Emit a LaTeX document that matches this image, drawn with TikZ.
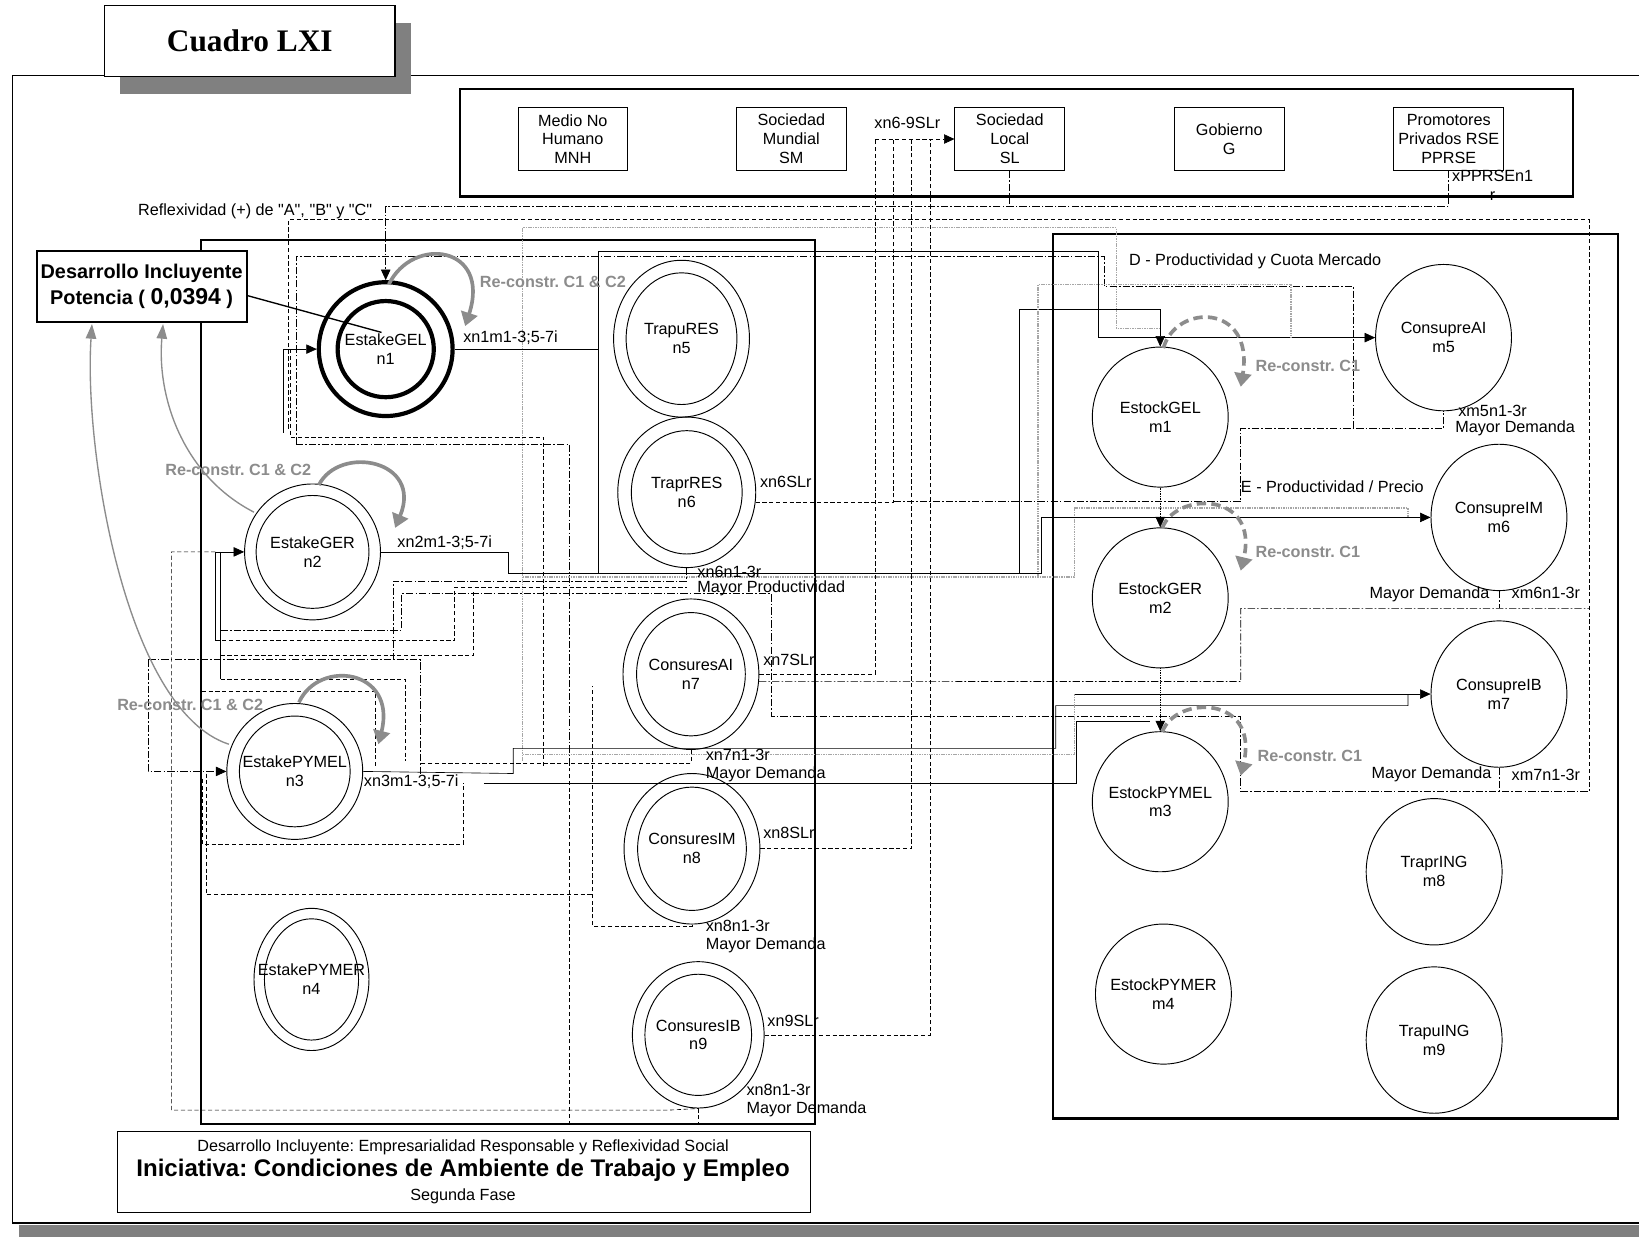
\documentclass[tikz,border=0pt]{standalone}
\usepackage{fontspec}
\setmainfont{Liberation Sans}
\newfontfamily\tnrfont{Liberation Serif}
\usetikzlibrary{arrows.meta,shapes.geometric}
\definecolor{rgray}{HTML}{8C8C8C}
\definecolor{shgray}{HTML}{808080}
\frenchspacing
\begin{document}
\begin{tikzpicture}[x=1pt,y=-1pt,
    txt/.style={font=\fontsize{15.5}{18}\selectfont, inner sep=0pt, align=center},
    lbl/.style={txt, anchor=west},
    actor/.style={txt, draw, line width=0.8pt, minimum width=105pt, minimum height=60pt},
    stake/.style={draw, ellipse, line width=0.9pt, inner sep=0pt},
    stock/.style={draw, ellipse, line width=0.9pt, inner sep=0pt, minimum width=130pt, minimum height=134pt},
    bx/.style={draw, line width=2pt},
    wire/.style={line width=0.6pt},
    dh/.style={wire, dash pattern=on 4pt off 2.5pt},
    dt/.style={wire, dash pattern=on 7pt off 2pt on 1.5pt off 2pt},
    gd/.style={line width=1.1pt, gray!70, dash pattern=on 1.5pt off 0.8pt},
    arw/.style={-{Triangle[length=10pt,width=9pt,color=black]}},
    recon/.style={rgray, line width=3.5pt, -{Triangle[length=13pt,width=16pt]}},
    recond/.style={recon, dash pattern=on 9pt off 5pt},
    rlbl/.style={lbl, text=rgray, font=\bfseries\fontsize{15.5}{18}\selectfont},
    guide/.style={rgray, line width=1.3pt, -{Triangle[length=14pt,width=10pt]}}
  ]

  \useasboundingbox (0,0) rectangle (1568,1183);
  \fill[shgray] (18,1172) rectangle (1580,1183);
  \draw[line width=1.2pt, fill=white] (12,72) rectangle (1575,1170);

  \fill[shgray] (115,22) rectangle (393,90);
  \node[draw, line width=1.2pt, fill=white, minimum width=278pt, minimum height=68pt, font=\tnrfont\bfseries\fontsize{30}{32}\selectfont] (titulo) at (239,39) {Cuadro LXI};

  \draw[line width=2.5pt] (440,85) rectangle (1505,188);
  \node[actor] (MNH) at (548,133) {Medio No\\Humano\\MNH};
  \node[actor] (SM) at (757,133) {Sociedad\\Mundial\\SM};
  \node[actor] (SL) at (966,133) {Sociedad\\Local\\SL};
  \node[actor] (G) at (1176,133) {Gobierno\\G};
  \node[actor] (PP) at (1386,133) {Promotores\\Privados RSE\\PPRSE};

  \draw[bx] (192,230) rectangle (780,1075);
  \draw[bx] (1007,224) rectangle (1548,1070);

  \node[stake, line width=4pt, minimum size=128pt, label={[txt]center:EstakeGEL\\n1}] (n1) at (369,334) {};
  \draw[line width=4pt] (n1.center) circle [radius=46];
  \node[stake, minimum size=130pt, label={[txt]center:EstakeGER\\n2}] (n2) at (299,528) {};
  \draw[line width=0.9pt] (n2.center) circle [radius=54];
  \node[stake, minimum size=130pt, label={[txt]center:EstakePYMEL\\n3}] (n3) at (282,738) {};
  \draw[line width=0.9pt] (n3.center) circle [radius=53];
  \node[stake, minimum width=110pt, minimum height=136pt, label={[txt]center:EstakePYMER\\n4}] (n4) at (298,937) {};
  \draw[line width=0.9pt] (n4.center) ellipse [x radius=45, y radius=58];
  \node[stake, minimum width=130pt, minimum height=150pt, label={[txt]center:TrapuRES\\n5}] (n5) at (652,324) {};
  \draw[line width=0.9pt] (n5.center) ellipse [x radius=53, y radius=63];
  \node[stake, minimum width=132pt, minimum height=144pt, label={[txt]center:TraprRES\\n6}] (n6) at (657,471) {};
  \draw[line width=0.9pt] (n6.center) ellipse [x radius=53, y radius=59];
  \node[stake, minimum width=130pt, minimum height=144pt, label={[txt]center:ConsuresAI\\n7}] (n7) at (661,645) {};
  \draw[line width=0.9pt] (n7.center) ellipse [x radius=52, y radius=59];
  \node[stake, minimum width=130pt, minimum height=144pt, label={[txt]center:ConsuresIM\\n8}] (n8) at (662,812) {};
  \draw[line width=0.9pt] (n8.center) ellipse [x radius=52, y radius=59];
  \node[stake, minimum width=126pt, minimum height=140pt, label={[txt]center:ConsuresIB\\n9}] (n9) at (668,990) {};
  \draw[line width=0.9pt] (n9.center) ellipse [x radius=51, y radius=58];

  \node[stock, label={[txt]center:EstockGEL\\m1}] (m1) at (1110,399) {};
  \node[stock, label={[txt]center:EstockGER\\m2}] (m2) at (1110,572) {};
  \node[stock, label={[txt]center:EstockPYMEL\\m3}] (m3) at (1110,767) {};
  \node[stock, label={[txt]center:EstockPYMER\\m4}] (m4) at (1113,951) {};
  \node[stock, minimum height=140pt, label={[txt]center:ConsupreAI\\m5}] (m5) at (1381,323) {};
  \node[stock, minimum height=140pt, label={[txt]center:ConsupreIM\\m6}] (m6) at (1434,495) {};
  \node[stock, minimum height=140pt, label={[txt]center:ConsupreIB\\m7}] (m7) at (1434,664) {};
  \node[stock, minimum height=140pt, label={[txt]center:TraprING\\m8}] (m8) at (1372,834) {};
  \node[stock, minimum height=140pt, label={[txt]center:TrapuING\\m9}] (m9) at (1372,995) {};

  \draw[dt, arw] (PP.south) -- (1386,197) -- (369,197) -- (n1.north);
  \draw[dt] (SL.south) -- (966,197);
  \draw[dh] (276,410) -- (276,210) -- (1520,210) -- (1520,757);
  \draw[gd] (500,728) -- (500,218) -- (1068,218) -- (1068,314) -- (1110,314);
  \draw[dt] (283,425) -- (283,245) -- (1056,245) -- (1056,274) -- (1295,274) -- (1295,410);

  \draw[dh] (n6.-8) -| (855,133);
  \draw[dh] (n7.east) -| (837,133);
  \draw[dh] (n8.east) -| (872,133);
  \draw[dh] (n9.east) -| (890,133);
  \draw[dh, arw] (837,133) -- (SL.west);

  \draw[wire, arw] (271,414) -- (271,334) -- (n1.west);
  \draw[dh] (278,334) -- (278,418) -- (520,418) -- (520,735);
  \draw[dt] (283,425) -- (545,425) -- (545,735);
  \draw[wire] (n1.east) -- (572,334);
  \draw[wire, arw] (572,548) -- (572,240) -- (1051,240) -- (1051,323) -- (m5.west);

  \draw[wire, arw] (206,613) -- (206,528) -- (n2.west);
  \draw[dh] (206,528) -- (164,528) -- (164,1062) -- (640,1062) -- (n9.south);
  \draw[wire] (n2.east) -- (486,528) -- (486,548) -- (975,548);
  \draw[wire, arw] (975,548) -- (975,296) -- (1110,296) -- (m1.north);
  \draw[gd] (993,552) -- (993,272) -- (1235,272) -- (1235,323);
  \draw[gd] (500,552) -- (1028,552) -- (1028,486) -- (1347,486) -- (1347,495);
  \draw[wire, arw] (975,548) -- (996,548) -- (996,495) -- (m6.west);

  \draw[dt] (n6.south) -- (657,556) -- (376,556) -- (376,631);
  \draw[dt] (211,603) -- (384,603) -- (384,568) -- (738,568) -- (738,685) -- (1187,685) -- (1187,757) -- (1520,757);
  \draw[dh] (206,613) -- (435,613) -- (435,562) -- (657,562);
  \draw[dh] (211,627) -- (453,627) -- (453,565);
  \draw[wire] (211,528) -- (211,650);
  \draw[dt, arw] (142,631) -- (142,738) -- (n3.west);
  \draw[dt] (142,631) -- (402,631) -- (402,740);
  \draw[dh] (211,650) -- (388,650) -- (388,728);
  \draw[dh] (193,661) -- (359,661) -- (359,735);

  \draw[dt] (855,480) -- (1187,480) -- (1187,410) -- (1381,410) -- (m5.south);
  \draw[dt] (n7.-6) -- (1187,652) -- (1187,582) -- (1520,582);
  \draw[dt] (m6.south) -- (1434,582);
  \draw[dt] (m7.south) -- (1434,757);

  \draw[wire] (n3.east) -- (491,740) -- (491,716) -- (1010,716) -- (1010,675) -- (1347,675) -- (1347,664);
  \draw[gd] (500,722) -- (1028,722) -- (1028,664);
  \draw[wire, arw] (1028,664) -- (m7.west);
  \draw[wire] (463,749) -- (1030,749) -- (1030,690) -- (1100,690);
  \draw[dh] (n7.south) -- (661,730) -- (402,730);

  \draw[wire, densely dotted, arw] (m1.south) -- (m2.north);
  \draw[wire, densely dotted, arw] (m2.south) -- (m3.north);

  \draw[dh] (194,745) -- (194,808) -- (443,808) -- (443,749);
  \draw[dh] (197,740) -- (197,856) -- (567,856);
  \draw[dh] (n8.south) -- (662,886) -- (567,886) -- (567,656);
  \draw[dh] (n9.south) -- (668,1075) -- (545,1075) -- (545,735);

  \node[draw, line width=2pt, fill=white, minimum width=201pt, minimum height=68pt, inner sep=0pt, align=center, font=\bfseries\fontsize{19}{25}\selectfont] (DI) at (135.5,274) {Desarrollo Incluyente\\Potencia ( {\fontsize{22}{25}\selectfont 0,0394} )};
  \draw[line width=1.3pt] (DI.-5) -- (365,318);

  \draw[guide] (243,490) .. controls (175,455) and (150,380) .. (156,310);
  \draw[guide] (219,712) .. controls (120,680) and (80,430) .. (88,310);

  \draw[recon] (372,272) .. controls (395,225) and (470,235) .. (445,312);
  \draw[recon] (305,464) .. controls (325,425) and (405,440) .. (378,505);
  \draw[recon] (286,672) .. controls (305,630) and (380,640) .. (362,712);
  \draw[recond] (1113,333) .. controls (1125,290) and (1200,290) .. (1187,370);
  \draw[recond] (1112,505) .. controls (1125,470) and (1205,470) .. (1187,546);
  \draw[recond] (1112,700) .. controls (1125,665) and (1205,665) .. (1187,742);

  \node[rlbl] (rc1) at (459,270) {Re-constr. C1 \& C2};
  \node[rlbl] (rc2) at (158,450) {Re-constr. C1 \& C2};
  \node[rlbl] (rc3) at (112,674) {Re-constr. C1 \& C2};
  \node[rlbl] (rm1) at (1201,350) {Re-constr. C1};
  \node[rlbl] (rm2) at (1201,528) {Re-constr. C1};
  \node[rlbl] (rm3) at (1203,723) {Re-constr. C1};

  \node[lbl] (refl) at (132,202) {Reflexividad (+) de \textquotedbl A\textquotedbl, \textquotedbl B\textquotedbl{} y \textquotedbl C\textquotedbl};
  \node[lbl] (xn1) at (443,323) {xn1m1-3;5-7i};
  \node[lbl] (xn2) at (380,519) {xn2m1-3;5-7i};
  \node[lbl] (xn3) at (348,748) {xn3m1-3;5-7i};
  \node[lbl] (xs6) at (727,461) {xn6SLr};
  \node[lbl] (xr6) at (667,547) {xn6n1-3r};
  \node[lbl] (mp6) at (667,563) {Mayor Productividad};
  \node[lbl] (xs7) at (730,631) {xn7SLr};
  \node[lbl] (xr7) at (675,722) {xn7n1-3r};
  \node[lbl] (md7) at (675,741) {Mayor Demanda};
  \node[lbl] (xs8) at (730,797) {xn8SLr};
  \node[lbl] (xr8) at (675,886) {xn8n1-3r};
  \node[lbl] (md8) at (675,904) {Mayor Demanda};
  \node[lbl] (xs9) at (734,977) {xn9SLr};
  \node[lbl] (xr9) at (714,1043) {xn8n1-3r};
  \node[lbl] (md9) at (714,1061) {Mayor Demanda};
  \node[txt] (xsl) at (868,118) {xn6-9SLr};
  \node[txt] (xpp) at (1428,177) {xPPRSEn1\\r};
  \node[lbl] (regD) at (1080,250) {D - Productividad y Cuota Mercado};
  \node[lbl] (xm5) at (1395,393) {xm5n1-3r};
  \node[lbl] (md5) at (1392,410) {Mayor Demanda};
  \node[lbl] (regE) at (1187,466) {E - Productividad / Precio};
  \node[lbl] (md6) at (1310,569) {Mayor Demanda};
  \node[lbl] (xm6) at (1446,567) {xm6n1-3r};
  \node[lbl] (md7b) at (1312,741) {Mayor Demanda};
  \node[lbl] (xm7) at (1446,741) {xm7n1-3r};

  \node[draw, line width=0.8pt, minimum width=663pt, minimum height=78pt] (pie) at (443.5,1121) {};
  \node[txt] (pie1) at (443,1098) {Desarrollo Incluyente: Empresarialidad Responsable y Reflexividad Social};
  \node[txt, font=\bfseries\fontsize{23}{26}\selectfont] (pie2) at (443,1120) {Iniciativa: Condiciones de Ambiente de Trabajo y Empleo};
  \node[txt] (pie3) at (443,1144) {Segunda Fase};
\end{tikzpicture}
\end{document}
